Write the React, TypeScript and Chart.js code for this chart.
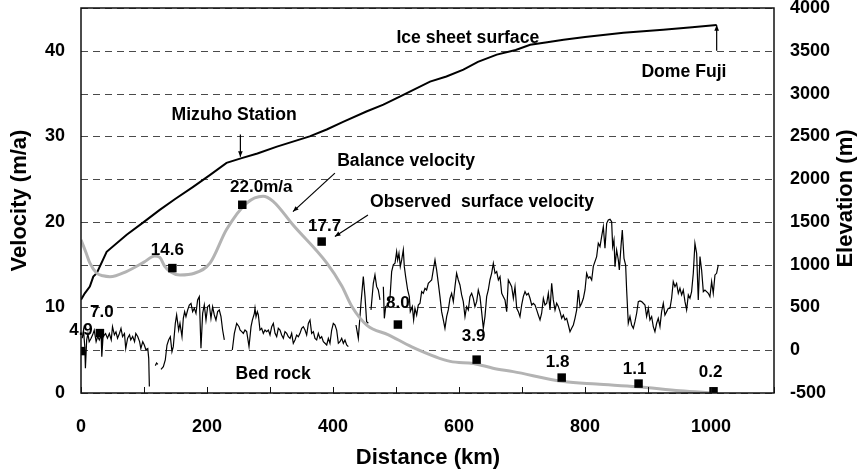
import React, { useEffect, useRef } from 'react';
import { Chart, registerables } from 'chart.js';
Chart.register(...registerables);

const FONT = '"Liberation Sans", Arial, Helvetica, sans-serif';

// Ice sheet surface elevation (m) along distance (km)
const surfaceKm = [0, 6, 14, 19.5, 25, 40.7, 72.5, 100, 125, 150, 178, 205, 231, 255, 280, 311, 363, 390, 416, 453, 480, 506, 554, 580, 607, 630, 660, 690, 713, 740, 766, 800, 861, 924, 970, 1009];
const surfaceElev = [590, 665, 745, 860, 900, 1150, 1350, 1500, 1640, 1770, 1910, 2050, 2190, 2245, 2300, 2380, 2500, 2580, 2670, 2790, 2870, 2965, 3140, 3200, 3280, 3370, 3455, 3510, 3570, 3600, 3630, 3660, 3710, 3745, 3775, 3800];

// Balance velocity (m/a)
const balanceKm = [0, 8, 14, 25, 35, 46, 72, 100, 117, 125, 133, 141, 157, 180, 205, 231, 263, 289, 305, 337, 390, 414, 430, 454, 488, 525, 586, 623, 654, 686, 766, 818, 882, 951, 1004];
const balanceVel = [17.9, 16.4, 15.2, 14.0, 13.7, 13.6, 14.2, 15.3, 16.0, 15.85, 14.8, 14.2, 13.8, 14.0, 15.2, 19.1, 22.2, 23.0, 22.4, 19.6, 15.2, 12.5, 10.1, 7.9, 6.8, 5.4, 3.7, 3.45, 2.9, 2.5, 1.35, 1.05, 0.74, 0.27, 0.0];

// Observed surface velocity (m/a)
const obsKm = [0, 30, 145, 256, 382, 503, 628, 763, 885, 1004];
const obsVel = [4.9, 7.0, 14.6, 22.0, 17.7, 8.0, 3.9, 1.8, 1.1, 0.2];
const obsLabels = ['4.9', '7.0', '14.6', '22.0m/a', '17.7', '8.0', '3.9', '1.8', '1.1', '0.2'];
const obsLabelOffsets = [[0, -21], [2, -21], [-5, -18], [19, -17], [3, -15], [0, -21], [-3, -23], [-4, -15], [-4, -14], [-3, -19]];

// Bed rock elevation (m); null marks a gap in the record
const bedKm = [
  2, 4, 6, 7, 9, 11, 13, 16, 18.5, 21, 24, 26.5, 29, 32, 33, 35, 39, 42, 45, 48, 50, 53, 55.5, 58, 61, 63.5, 66, 69, 71, 74, 77, 79, 82, 85, 87, 90, 93, 95, 98, 100.5, 103, 106, 107.5, 108.5,
  113,
  118, 120, 122,
  124,
  127, 130.7, 133.8, 136.5, 139.1, 141.8, 144.4, 146.5, 149.7, 151.8, 155, 157.1, 160.3, 162.4, 164.5, 166.6, 169.3, 171.9, 174.6, 177.2, 179.9, 182.5, 185.1, 187.8, 190.4, 193.1, 195.7, 198.4, 201, 203.7, 206.3, 208.9, 211.6, 214.2, 216.9, 219.5, 222.2, 224.8, 227.5,
  234,
  240.2, 243.4, 247.1, 250.8, 252.4, 255.1, 257.7, 260.3, 263, 266.7, 269.9, 272, 275.2, 276.2, 277.8, 279.9, 281.5, 284.1, 286.8, 289.4, 292.1, 294.7, 297.4, 300, 302.7, 305.3, 308, 310.6, 313.2, 315.9, 318.5, 321.2, 323.8, 326.5, 329.1, 331.8, 334.4, 337, 339.7, 342.3, 345, 347.6, 350.3, 352.9, 355.6, 358.2, 360.9, 363.5, 366.1, 368.8, 371.4, 374.1, 376.7, 379.4, 382, 384.7, 387.3, 390, 392.6, 395.2, 397.9, 400.5, 403.2, 405.8, 408.5, 411.1, 413.8, 416.4, 419, 421.7, 424.3,
  430,
  436.5, 440.2, 444.4, 448.1, 450.8, 453.4, 456.1,
  458,
  460.3, 464, 466.6, 469.3, 471.9, 474.6,
  477,
  479.9, 481.5, 483.6, 487.8, 490.4, 493.1, 495.7, 498.4, 501, 502.6, 504.7, 506.8, 509, 511.6, 513.2, 515.3, 518.5, 521.1, 522.7, 525.9, 528, 530.1, 532.8, 535.4, 538.1, 540.7, 543.3, 546, 548.6, 551.3, 553.9, 556.6, 559.2, 561.9, 564.5, 567.2, 569.8, 572.4, 575.1, 577.7, 580.4, 583, 585.7, 588.3, 591, 593.6, 596.2, 598.9, 601.5, 604.2, 606.8, 609.5, 612.1, 614.8, 617.4, 620.1, 622.7, 625.3, 628, 630.6, 633.3, 635.9, 638.6, 641.2, 643.9, 646.5, 649.1, 651.8, 654.5, 657.2, 659.8, 662.5, 665.1, 667.8, 670.4, 673, 675.7, 678.3, 681, 683.6, 686.3, 688.9, 691.6, 694.2, 696.8, 699.5, 702.1, 704.8, 707.4, 710.1, 712.7, 715.4, 718, 720.7, 723.3, 725.9, 728.6, 731.2, 733.9, 736.5, 739.2, 741.8, 744.5, 747.1, 749.7, 752.4, 755, 757.7, 760.3, 763, 765.6, 768.3, 770.9, 773.6, 776.2, 778.8, 781.5, 784.1, 786.8, 789.4, 792.1, 794.7, 797.4, 800, 802.6, 805.3, 807.9, 810.6, 813.2, 818.5, 821.1, 823.8, 826.4, 829.1, 831.7, 834.4, 837, 839.7, 842.3, 843.9, 846, 847.6, 850.2, 852.9, 854.5, 857.1, 859.2, 861.9, 864.5, 866.1, 868.7, 871.4, 874, 876.7, 879.3, 882, 884.6, 887.2, 889.9, 892.5, 895.2, 897.8, 900.5, 903.1, 905.8, 908.4, 911, 913.7, 916.3, 919, 921.6, 924.3, 926.9, 929.6, 932.2, 934.9, 937.5, 940.1, 942.8, 945.4, 948.1, 950.7, 953.4, 956, 958.7, 961.3, 964, 966.6, 969.2, 971.9, 974.5, 977.2, 979.8, 982.5, 985.1, 987.8, 990.4, 993, 995.7, 998.3, 1001, 1003.6, 1006.3, 1008.9, 1011.6,
];
const bedElev = [
  140, 235, 40, -210, 120, 195, 100, 140, 180, 235, 100, 160, 120, 180, -75, 160, 195, 140, 195, 120, 275, 180, 215, 140, 195, 255, 160, 195, 20, 140, 180, 120, 160, 100, 195, 160, 100, 20, 100, 60, 5, 20, -95, -425,
  null,
  -180, -150, -165,
  null,
  -223, -192, -114, 61, 120, 158, -17, 42, 314, 412, 236, 314, 158, 373, 451, 392, 470, 529, 548, 451, 490, 431, 587, 626, 22, 431, 529, 353, 509, 529, 373, 509, 412, 353, 451, 470, 392, 236, 120,
  null,
  3, 197, 314, 275, 236, 217, 197, 236, 217, 42, 275, 353, 431, 490, 392, 451, 412, 236, 256, 197, 236, 217, 236, 178, 275, 314, 197, 158, 256, 236, 178, 139, 217, 197, 158, 139, 197, 81, 120, 178, 158, 197, 256, 275, 236, 178, 314, 353, 197, 217, 139, 120, 197, 139, 158, 100, 81, 61, 139, 81, 236, 314, 295, 236, 81, 100, 139, 81, 120, 61, 42,
  null,
  295, 139, 549, 860, 626, 334, 315,
  null,
  471, 782, 880, 743, 704, 588,
  null,
  743, 373, 510, 529, 607, 919, 997, 1016, 1153, 1055, 1133, 977, 1055, 1172, 977, 860, 704, 626, 451, 510, 354, 490, 412, 529, 549, 685, 665, 724, 704, 782, 802, 821, 938, 1055, 938, 782, 626, 451, 354, 256, 393, 471, 607, 665, 568, 743, 899, 821, 763, 646, 568, 393, 510, 471, 626, 665, 607, 510, 568, 704, 626, 451, 256, 393, 626, 704, 821, 899, 1016, 899, 919, 821, 860, 665, 626, 588, 451, 821, 782, 743, 607, 743, 490, 451, 393, 529, 626, 685, 646, 665, 607, 529, 549, 529, 471, 412, 354, 432, 607, 529, 549, 665, 471, 782, 588, 471, 549, 510, 451, 373, 412, 354, 373, 295, 217, 256, 295, 373, 471, 704, 510, 549, 607, 704, 899, 841, 860, 821, 980, 1094, 1250, 1211, 1327, 1444, 1191, 1483, 1522, 1530, 1503, 1211, 1289, 977, 1172, 1055, 938, 1211, 1405, 1074, 996, 704, 315, 393, 295, 256, 334, 432, 568, 576, 568, 549, 529, 393, 490, 354, 393, 276, 217, 315, 373, 276, 451, 549, 412, 451, 490, 490, 607, 802, 743, 782, 665, 724, 646, 704, 568, 471, 646, 607, 685, 899, 1250, 1133, 588, 1094, 938, 685, 704, 685, 665, 626, 802, 665, 880, 899, 997,
];

// Axis tick values
const xTickStep = 100;
const xLabelStep = 200;
const velTickStep = 10;
const elevTickStep = 500;

// Annotation texts (anchored in km / m/a)
const annotations = [
  { text: 'Ice sheet surface', km: 614, vel: 41.5 },
  { text: 'Dome Fuji', km: 957, vel: 37.5 },
  { text: 'Mizuho Station', km: 243, vel: 32.5 },
  { text: 'Balance velocity', km: 516, vel: 27.05 },
  { text: 'Observed  surface velocity', km: 636.5, vel: 22.25 },
  { text: 'Bed rock', km: 305, vel: 2.2 },
];
const arrows = [
  { from: [253, 30.2], to: [253, 27.6] },
  { from: [1009, 40.0], to: [1009, 43.0] },
  { from: [403, 25.7], to: [336.5, 21.2] },
  { from: [455.5, 20.8], to: [403, 18.3] },
];

const pts = (xs: number[], ys: (number | null)[]) => xs.map((x, i) => ({ x, y: ys[i] }));

export default function App() {
  const ref = useRef<HTMLCanvasElement>(null);
  useEffect(() => {
    const canvas = ref.current!;
    const overlay = {
      id: 'overlay',
      beforeDatasetsDraw(chart: any) {
        const { ctx, chartArea: a } = chart;
        const y2 = chart.scales.y2;
        ctx.save();
        ctx.strokeStyle = '#4a4a4a';
        ctx.lineWidth = 1;
        ctx.setLineDash([7, 5]);
        y2.ticks.forEach((t: any) => {
          const py = Math.round(y2.getPixelForValue(t.value)) + 0.5;
          ctx.beginPath();
          ctx.moveTo(a.left, py);
          ctx.lineTo(a.right, py);
          ctx.stroke();
        });
        ctx.restore();
      },
      afterDraw(chart: any) {
        const { ctx, chartArea: a } = chart;
        const xs = chart.scales.x;
        const ys = chart.scales.y;
        ctx.save();
        ctx.strokeStyle = '#111';
        ctx.lineWidth = 1.5;
        ctx.strokeRect(a.left, a.top, a.right - a.left, a.bottom - a.top);
        ctx.lineWidth = 1;
        for (let v = 0; v <= xs.max; v += xTickStep) {
          const px = Math.round(xs.getPixelForValue(v)) + 0.5;
          ctx.beginPath();
          ctx.moveTo(px, a.bottom);
          ctx.lineTo(px, a.bottom - 6);
          ctx.stroke();
        }
        ctx.fillStyle = '#000';
        ctx.textAlign = 'center';
        ctx.textBaseline = 'middle';
        ctx.font = `bold 17px ${FONT}`;
        obsKm.forEach((k, i) => {
          const px = xs.getPixelForValue(k) + obsLabelOffsets[i][0];
          const py = ys.getPixelForValue(obsVel[i]) + obsLabelOffsets[i][1];
          ctx.fillText(obsLabels[i], px, py);
        });
        ctx.font = `bold 17.6px ${FONT}`;
        annotations.forEach((an) => {
          ctx.fillText(an.text, xs.getPixelForValue(an.km), ys.getPixelForValue(an.vel));
        });
        ctx.strokeStyle = '#000';
        ctx.lineWidth = 1.2;
        arrows.forEach((ar) => {
          const x1 = xs.getPixelForValue(ar.from[0]);
          const y1 = ys.getPixelForValue(ar.from[1]);
          const x2 = xs.getPixelForValue(ar.to[0]);
          const y2 = ys.getPixelForValue(ar.to[1]);
          ctx.beginPath();
          ctx.moveTo(x1, y1);
          ctx.lineTo(x2, y2);
          ctx.stroke();
          const ang = Math.atan2(y2 - y1, x2 - x1);
          const L = 6;
          ctx.beginPath();
          ctx.moveTo(x2, y2);
          ctx.lineTo(x2 - L * Math.cos(ang - 0.4), y2 - L * Math.sin(ang - 0.4));
          ctx.lineTo(x2 - L * Math.cos(ang + 0.4), y2 - L * Math.sin(ang + 0.4));
          ctx.closePath();
          ctx.fill();
        });
        ctx.font = `bold 22px ${FONT}`;
        ctx.fillText('Distance (km)', (a.left + a.right) / 2 + 0.5, 458);
        ctx.save();
        ctx.translate(20, (a.top + a.bottom) / 2);
        ctx.rotate(-Math.PI / 2);
        ctx.fillText('Velocity (m/a)', 0, 0);
        ctx.restore();
        ctx.save();
        ctx.translate(846, (a.top + a.bottom) / 2 - 2);
        ctx.rotate(-Math.PI / 2);
        ctx.fillText('Elevation (m)', 0, 0);
        ctx.restore();
        ctx.restore();
      },
    };

    const tickFont = { family: FONT, size: 18, weight: 'bold' as const };
    const fitV = (w: number) => (s: any) => {
      s.width = w;
      s.paddingTop = 0;
      s.paddingBottom = 0;
    };
    const chart = new Chart(canvas, {
      type: 'line',
      data: {
        datasets: [
          {
            label: 'Observed surface velocity',
            data: pts(obsKm, obsVel),
            showLine: false,
            pointStyle: 'rect',
            pointRadius: 6,
            pointBackgroundColor: '#000',
            pointBorderColor: '#000',
            pointBorderWidth: 0,
            yAxisID: 'y',
          },
          {
            label: 'Balance velocity',
            data: pts(balanceKm, balanceVel),
            borderColor: '#b3b3b3',
            borderWidth: 3,
            pointRadius: 0,
            cubicInterpolationMode: 'monotone',
            yAxisID: 'y',
          },
          {
            label: 'Ice sheet surface',
            data: pts(surfaceKm, surfaceElev),
            borderColor: '#000',
            borderWidth: 2,
            pointRadius: 0,
            tension: 0,
            yAxisID: 'y2',
          },
          {
            label: 'Bed rock',
            data: pts(bedKm, bedElev),
            borderColor: '#000',
            borderWidth: 1.2,
            pointRadius: 0,
            spanGaps: false,
            yAxisID: 'y2',
          },
        ] as any,
      },
      options: {
        animation: false,
        responsive: true,
        maintainAspectRatio: false,
        layout: { padding: { top: 8, left: 0, right: 0, bottom: 0 } },
        plugins: { legend: { display: false }, tooltip: { enabled: false } },
        scales: {
          x: {
            type: 'linear',
            min: 0,
            max: 1100,
            grid: { display: false, drawTicks: false },
            border: { display: false },
            ticks: {
              stepSize: xTickStep,
              autoSkip: false,
              maxRotation: 0,
              includeBounds: false,
              color: '#000',
              font: tickFont,
              padding: 23,
              callback: (v: any) => (Number(v) % xLabelStep === 0 && Number(v) <= 1000 ? String(v) : ''),
            },
            afterFit: (s: any) => { s.height = 82; s.paddingLeft = 0; s.paddingRight = 0; },
          },
          y: {
            position: 'left',
            min: 0,
            max: 45,
            grid: { display: false, drawTicks: false },
            border: { display: false },
            ticks: {
              stepSize: velTickStep,
              includeBounds: false,
              color: '#000',
              font: tickFont,
              padding: 16,
              callback: (v: any) => String(v),
            },
            afterFit: fitV(81),
          },
          y2: {
            position: 'right',
            min: -500,
            max: 4000,
            grid: { display: false, drawTicks: false },
            border: { display: false },
            ticks: {
              stepSize: elevTickStep,
              color: '#000',
              font: tickFont,
              padding: 16,
              callback: (v: any) => String(v),
            },
            afterFit: fitV(85),
          },
        },
      } as any,
      plugins: [overlay],
    });
    return () => chart.destroy();
  }, []);
  return (
    <div style={{ position: 'absolute', left: 0, top: 0, width: 859, height: 475, background: '#fff' }}>
      <canvas ref={ref} />
    </div>
  );
}
